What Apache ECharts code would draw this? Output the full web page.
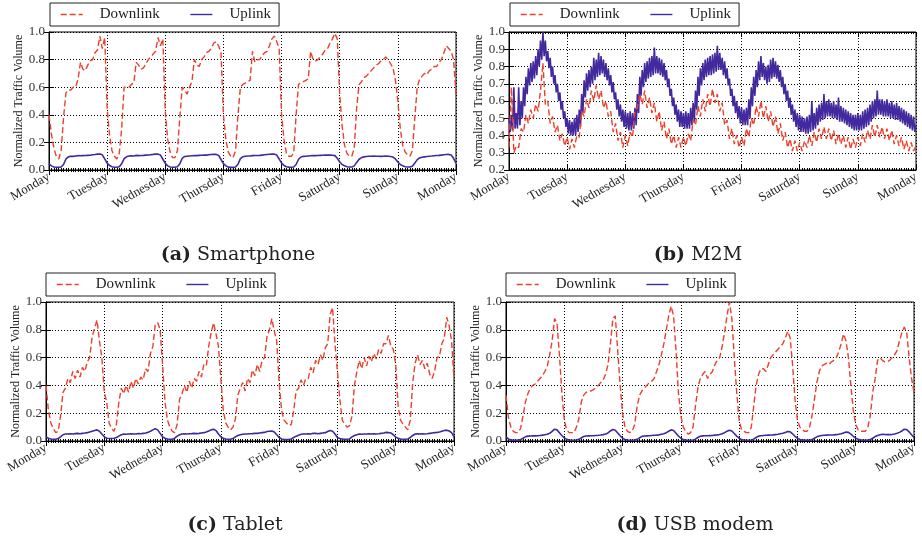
<!DOCTYPE html>
<html><head><meta charset="utf-8">
<script src="https://cdn.jsdelivr.net/npm/echarts@6/dist/echarts.min.js"></script>
<style>html,body{margin:0;padding:0;background:#fff}#c{width:922px;height:540px}</style>
</head><body><div id="c"></div>
<script>
// x axis tick labels (one per day boundary, hours 0..168 step 24)
const dayLabels = ['Monday','Tuesday','Wednesday','Thursday','Friday','Saturday','Sunday','Monday'];
const seriesNames = ['Downlink','Uplink'];
const captions = [['(a)','Smartphone'],['(b)','M2M'],['(c)','Tablet'],['(d)','USB modem']];

// hourly samples, hour 0 (Monday 00:00) to hour 168 (next Monday 00:00)
const smartphoneDown = [
0.40,0.26,0.16,0.10,0.08,0.14,0.38,0.56,0.58,0.58,0.60,0.60,0.66,0.78,0.73,0.72,0.76,0.79,0.80,0.85,0.87,0.97,0.88,0.96,
0.45,0.25,0.14,0.10,0.08,0.12,0.30,0.60,0.60,0.60,0.62,0.63,0.78,0.76,0.73,0.74,0.77,0.80,0.82,0.84,0.86,0.96,0.90,0.95,
0.42,0.22,0.13,0.09,0.09,0.14,0.38,0.60,0.58,0.55,0.60,0.64,0.80,0.76,0.75,0.80,0.82,0.85,0.86,0.88,0.92,0.93,0.90,0.85,
0.40,0.22,0.13,0.10,0.09,0.14,0.40,0.60,0.62,0.63,0.64,0.65,0.86,0.78,0.80,0.80,0.83,0.85,0.86,0.90,0.95,0.97,0.93,0.88,
0.40,0.22,0.12,0.10,0.10,0.12,0.40,0.62,0.63,0.64,0.65,0.66,0.86,0.80,0.79,0.80,0.82,0.84,0.87,0.88,0.92,0.95,0.99,0.95,
0.55,0.32,0.18,0.12,0.10,0.10,0.16,0.45,0.62,0.64,0.67,0.68,0.70,0.72,0.74,0.76,0.77,0.79,0.80,0.82,0.80,0.77,0.74,0.65,
0.50,0.30,0.18,0.13,0.11,0.10,0.14,0.38,0.60,0.66,0.68,0.70,0.69,0.72,0.73,0.75,0.75,0.78,0.80,0.85,0.90,0.88,0.86,0.80,
0.55];
const smartphoneUp = [
0.045,0.030,0.022,0.020,0.019,0.022,0.040,0.080,0.095,0.100,0.099,0.102,0.104,0.103,0.104,0.105,0.106,0.107,0.110,0.112,0.115,0.116,0.110,0.080,
0.050,0.032,0.023,0.020,0.020,0.023,0.045,0.082,0.096,0.101,0.103,0.102,0.106,0.104,0.105,0.106,0.108,0.109,0.111,0.113,0.116,0.115,0.108,0.078,
0.048,0.030,0.022,0.020,0.020,0.024,0.045,0.085,0.098,0.100,0.102,0.103,0.104,0.104,0.106,0.107,0.108,0.108,0.110,0.112,0.114,0.113,0.106,0.076,
0.046,0.030,0.021,0.019,0.019,0.022,0.042,0.082,0.096,0.100,0.101,0.102,0.104,0.105,0.105,0.106,0.108,0.110,0.112,0.114,0.116,0.115,0.108,0.080,
0.050,0.033,0.024,0.021,0.020,0.022,0.040,0.078,0.094,0.099,0.100,0.102,0.103,0.104,0.104,0.105,0.106,0.107,0.108,0.108,0.108,0.107,0.104,0.085,
0.058,0.040,0.030,0.024,0.022,0.022,0.030,0.055,0.078,0.090,0.095,0.098,0.100,0.100,0.101,0.100,0.100,0.099,0.100,0.101,0.100,0.098,0.094,0.080,
0.058,0.040,0.030,0.024,0.022,0.022,0.028,0.050,0.075,0.088,0.092,0.095,0.098,0.100,0.101,0.103,0.105,0.106,0.108,0.110,0.112,0.113,0.108,0.085,
0.050];
const m2mDown = [
0.33,0.68,0.30,0.34,0.33,0.44,0.42,0.52,0.47,0.55,0.50,0.58,0.54,0.66,0.82,0.58,0.60,0.47,0.51,0.42,0.46,0.37,0.41,0.34,
0.39,0.32,0.38,0.33,0.40,0.39,0.54,0.51,0.61,0.56,0.66,0.60,0.69,0.61,0.66,0.56,0.60,0.51,0.54,0.42,0.47,0.37,0.42,0.33,
0.40,0.34,0.42,0.39,0.55,0.56,0.64,0.58,0.66,0.56,0.62,0.53,0.59,0.48,0.54,0.43,0.48,0.38,0.44,0.35,0.40,0.33,0.39,0.33,
0.39,0.34,0.41,0.37,0.49,0.46,0.57,0.51,0.61,0.54,0.64,0.57,0.67,0.59,0.64,0.54,0.59,0.46,0.49,0.38,0.44,0.35,0.40,0.33,
0.39,0.34,0.44,0.39,0.50,0.46,0.57,0.51,0.60,0.50,0.57,0.48,0.54,0.45,0.51,0.41,0.47,0.37,0.42,0.33,0.38,0.31,0.37,0.31,
0.36,0.31,0.37,0.33,0.40,0.34,0.42,0.36,0.44,0.38,0.45,0.38,0.44,0.37,0.43,0.35,0.41,0.35,0.40,0.33,0.39,0.32,0.38,0.33,
0.39,0.34,0.41,0.36,0.43,0.38,0.46,0.39,0.46,0.39,0.45,0.38,0.44,0.37,0.43,0.35,0.40,0.34,0.39,0.32,0.37,0.31,0.36,0.31,
0.34];
// M2M uplink is sampled every half hour (337 samples, 0..168 h)
const m2mUpHalfHourly = [
0.50,0.42, 0.52,0.43, 0.68,0.44, 0.53,0.44, 0.68,0.46, 0.60,0.50, 0.68,0.57, 0.74,0.64, 0.79,0.69, 0.82,0.71, 0.83,0.73, 0.86,0.75,
0.90,0.80, 0.95,0.84, 1.00,0.86, 0.95,0.83, 0.89,0.79, 0.85,0.74, 0.80,0.70, 0.75,0.65, 0.70,0.60, 0.65,0.55, 0.60,0.50, 0.54,0.45,
0.50,0.41, 0.49,0.40, 0.48,0.40, 0.50,0.40, 0.52,0.42, 0.55,0.45, 0.64,0.53, 0.72,0.62, 0.76,0.66, 0.78,0.68, 0.80,0.70, 0.85,0.72,
0.84,0.74, 0.88,0.75, 0.86,0.76, 0.84,0.74, 0.82,0.72, 0.79,0.69, 0.75,0.65, 0.71,0.61, 0.65,0.55, 0.61,0.51, 0.58,0.48, 0.55,0.45,
0.54,0.44, 0.53,0.43, 0.54,0.43, 0.53,0.44, 0.56,0.46, 0.64,0.53, 0.74,0.63, 0.78,0.68, 0.82,0.71, 0.83,0.73, 0.85,0.74, 0.86,0.75,
0.91,0.76, 0.86,0.76, 0.85,0.75, 0.84,0.74, 0.82,0.72, 0.78,0.68, 0.73,0.63, 0.67,0.57, 0.62,0.52, 0.58,0.48, 0.55,0.45, 0.54,0.45,
0.53,0.44, 0.54,0.44, 0.53,0.44, 0.56,0.46, 0.59,0.48, 0.66,0.55, 0.74,0.63, 0.79,0.69, 0.82,0.72, 0.84,0.74, 0.85,0.75, 0.86,0.75,
0.87,0.76, 0.88,0.77, 0.92,0.78, 0.88,0.78, 0.85,0.75, 0.83,0.73, 0.79,0.69, 0.73,0.63, 0.67,0.57, 0.63,0.53, 0.60,0.50, 0.57,0.47,
0.56,0.46, 0.55,0.46, 0.56,0.46, 0.61,0.50, 0.68,0.57, 0.74,0.63, 0.78,0.68, 0.83,0.72, 0.86,0.74, 0.82,0.72, 0.80,0.70, 0.81,0.71,
0.84,0.73, 0.85,0.74, 0.83,0.73, 0.81,0.71, 0.78,0.68, 0.74,0.64, 0.70,0.60, 0.66,0.56, 0.62,0.52, 0.58,0.48, 0.55,0.45, 0.53,0.43,
0.52,0.42, 0.51,0.42, 0.50,0.41, 0.51,0.41, 0.52,0.42, 0.60,0.43, 0.53,0.44, 0.56,0.46, 0.58,0.48, 0.59,0.49, 0.64,0.50, 0.60,0.51,
0.61,0.51, 0.59,0.50, 0.60,0.50, 0.58,0.49, 0.62,0.48, 0.57,0.48, 0.56,0.47, 0.55,0.46, 0.54,0.45, 0.53,0.44, 0.52,0.43, 0.52,0.43,
0.53,0.43, 0.52,0.43, 0.54,0.44, 0.55,0.45, 0.56,0.46, 0.58,0.48, 0.60,0.50, 0.61,0.51, 0.66,0.52, 0.61,0.52, 0.61,0.51, 0.60,0.51,
0.61,0.51, 0.59,0.50, 0.60,0.50, 0.58,0.49, 0.59,0.49, 0.57,0.48, 0.56,0.47, 0.55,0.46, 0.54,0.45, 0.53,0.44, 0.52,0.43, 0.51,0.42,
0.46];
const tabletDown = [
0.40,0.22,0.13,0.09,0.06,0.07,0.18,0.35,0.38,0.45,0.42,0.50,0.45,0.51,0.46,0.53,0.50,0.57,0.60,0.75,0.81,0.87,0.72,0.60,
0.35,0.28,0.13,0.09,0.07,0.12,0.28,0.38,0.34,0.40,0.35,0.43,0.38,0.45,0.41,0.46,0.44,0.52,0.50,0.63,0.68,0.84,0.85,0.80,
0.55,0.28,0.15,0.10,0.07,0.06,0.12,0.30,0.34,0.40,0.35,0.43,0.38,0.45,0.43,0.50,0.46,0.55,0.54,0.68,0.78,0.85,0.77,0.68,
0.45,0.22,0.13,0.10,0.08,0.10,0.16,0.33,0.38,0.42,0.36,0.45,0.42,0.51,0.47,0.55,0.50,0.58,0.60,0.75,0.80,0.88,0.79,0.72,
0.42,0.22,0.15,0.13,0.11,0.12,0.22,0.36,0.38,0.44,0.40,0.45,0.45,0.53,0.49,0.58,0.55,0.62,0.58,0.67,0.70,0.91,0.96,0.70,
0.50,0.30,0.15,0.12,0.10,0.11,0.18,0.40,0.50,0.58,0.52,0.60,0.54,0.61,0.57,0.63,0.59,0.66,0.63,0.70,0.70,0.76,0.68,0.66,
0.55,0.25,0.15,0.12,0.10,0.08,0.15,0.42,0.56,0.62,0.55,0.58,0.52,0.56,0.48,0.45,0.50,0.60,0.61,0.70,0.74,0.89,0.83,0.72,
0.45];
const tabletUp = [
0.030,0.020,0.015,0.012,0.012,0.018,0.030,0.045,0.050,0.050,0.052,0.050,0.053,0.055,0.052,0.055,0.057,0.060,0.065,0.070,0.075,0.080,0.070,0.050,
0.030,0.020,0.018,0.018,0.020,0.025,0.035,0.045,0.050,0.048,0.050,0.052,0.050,0.050,0.053,0.052,0.055,0.058,0.062,0.070,0.080,0.088,0.080,0.055,
0.030,0.020,0.015,0.012,0.013,0.020,0.035,0.045,0.050,0.052,0.050,0.052,0.053,0.055,0.053,0.055,0.058,0.060,0.065,0.072,0.080,0.085,0.075,0.050,
0.030,0.020,0.015,0.012,0.012,0.018,0.030,0.040,0.045,0.048,0.050,0.050,0.052,0.053,0.055,0.055,0.058,0.060,0.062,0.068,0.070,0.072,0.065,0.045,
0.025,0.015,0.012,0.010,0.012,0.015,0.025,0.035,0.042,0.048,0.050,0.050,0.052,0.050,0.055,0.055,0.052,0.055,0.058,0.060,0.068,0.075,0.070,0.050,
0.025,0.018,0.015,0.012,0.012,0.015,0.030,0.040,0.045,0.050,0.048,0.050,0.050,0.052,0.050,0.052,0.050,0.052,0.055,0.058,0.062,0.060,0.058,0.045,
0.028,0.020,0.015,0.012,0.012,0.015,0.025,0.040,0.050,0.052,0.050,0.052,0.050,0.052,0.055,0.058,0.060,0.062,0.065,0.070,0.075,0.078,0.072,0.060,
0.030];
const usbDown = [
0.33,0.17,0.10,0.07,0.06,0.06,0.09,0.18,0.28,0.34,0.38,0.40,0.41,0.43,0.45,0.47,0.50,0.54,0.62,0.72,0.88,0.85,0.62,0.35,
0.15,0.08,0.06,0.06,0.06,0.10,0.16,0.28,0.33,0.35,0.36,0.36,0.37,0.38,0.40,0.42,0.44,0.48,0.55,0.70,0.88,0.90,0.65,0.40,
0.20,0.10,0.07,0.06,0.07,0.12,0.25,0.33,0.36,0.38,0.40,0.42,0.43,0.45,0.50,0.55,0.62,0.70,0.80,0.90,0.97,0.90,0.65,0.35,
0.18,0.10,0.07,0.05,0.06,0.10,0.25,0.38,0.45,0.48,0.50,0.45,0.48,0.50,0.55,0.58,0.60,0.68,0.78,0.90,1.00,0.88,0.60,0.35,
0.15,0.08,0.07,0.06,0.06,0.10,0.25,0.40,0.48,0.52,0.52,0.50,0.55,0.60,0.62,0.64,0.66,0.68,0.70,0.74,0.79,0.74,0.55,0.30,
0.15,0.10,0.08,0.07,0.07,0.10,0.18,0.30,0.42,0.50,0.54,0.55,0.56,0.55,0.57,0.58,0.60,0.64,0.70,0.77,0.72,0.60,0.40,0.22,
0.12,0.08,0.07,0.07,0.07,0.10,0.18,0.35,0.45,0.58,0.60,0.58,0.57,0.57,0.58,0.60,0.62,0.65,0.72,0.78,0.82,0.78,0.60,0.45,
0.35];
const usbUp = [
0.030,0.015,0.008,0.005,0.005,0.006,0.010,0.020,0.030,0.035,0.036,0.037,0.037,0.038,0.040,0.042,0.045,0.048,0.055,0.070,0.085,0.080,0.060,0.040,
0.022,0.012,0.007,0.005,0.005,0.007,0.012,0.022,0.032,0.036,0.037,0.038,0.038,0.040,0.041,0.043,0.046,0.050,0.058,0.072,0.083,0.078,0.058,0.038,
0.020,0.011,0.007,0.005,0.005,0.007,0.012,0.023,0.033,0.036,0.037,0.038,0.040,0.041,0.042,0.044,0.048,0.052,0.060,0.070,0.080,0.076,0.056,0.036,
0.020,0.010,0.006,0.005,0.005,0.007,0.013,0.025,0.034,0.037,0.038,0.038,0.039,0.040,0.042,0.044,0.047,0.052,0.060,0.070,0.078,0.072,0.054,0.035,
0.020,0.010,0.007,0.005,0.005,0.007,0.013,0.025,0.035,0.038,0.040,0.041,0.042,0.043,0.044,0.046,0.048,0.052,0.056,0.062,0.068,0.066,0.052,0.034,
0.020,0.011,0.007,0.006,0.005,0.006,0.010,0.020,0.030,0.036,0.039,0.041,0.042,0.043,0.043,0.044,0.046,0.048,0.052,0.058,0.064,0.062,0.050,0.034,
0.020,0.012,0.008,0.006,0.005,0.006,0.010,0.020,0.032,0.040,0.045,0.048,0.047,0.046,0.046,0.047,0.050,0.055,0.062,0.072,0.085,0.082,0.066,0.045,
0.025];

const FONT = 'Liberation Serif';
const CAPFONT = 'DejaVu Serif';
const RED = '#ec3f2b';
const BLUE = '#42299e';

const panels = [
  {grid:{left:49,top:32,width:407,height:138}, ymin:0, yint:0.2, down:smartphoneDown, up:smartphoneUp, upStep:1, upW:1.6, leg:{left:50,top:3}, cap:{x:233,y:241}},
  {grid:{left:509,top:32,width:407,height:138}, ymin:0.2, yint:0.1, down:m2mDown, up:m2mUpHalfHourly, upStep:0.5, upW:1.6, leg:{left:510,top:3}, cap:{x:693,y:241}},
  {grid:{left:46,top:302,width:408,height:139}, ymin:0, yint:0.2, down:tabletDown, up:tabletUp, upStep:1, upW:1.6, leg:{left:46,top:273}, cap:{x:230,y:511}},
  {grid:{left:506,top:302,width:408,height:139}, ymin:0, yint:0.2, down:usbDown, up:usbUp, upStep:1, upW:1.6, leg:{left:506,top:273}, cap:{x:690,y:511}}
];

const grid=[], xAxis=[], yAxis=[], series=[], legend=[], title=[];
const toPairs = (arr, step) => arr.map((v,i)=>[i*step,v]);

panels.forEach((p,i)=>{
  grid.push(Object.assign({show:true, borderColor:'#000', borderWidth:1, backgroundColor:'#fff'}, p.grid));
  const tickCommon = {inside:true, length:5, lineStyle:{color:'#000'}};
  xAxis.push({gridIndex:i, type:'value', min:0, max:168, interval:24, position:'bottom',
    axisLine:{lineStyle:{color:'#000', width:1}},
    axisTick:tickCommon,
    minorTick:{show:true, splitNumber:24, length:2, lineStyle:{color:'#000'}},
    splitLine:{show:true, lineStyle:{color:'#000', type:[1,2], width:1}},
    axisLabel:{rotate:30, margin:6, fontFamily:FONT, fontSize:13, color:'#222',
      formatter:v=>dayLabels[Math.round(v/24)]}});
  xAxis.push({gridIndex:i, type:'value', min:0, max:168, interval:24, position:'top',
    axisLine:{lineStyle:{color:'#000'}}, axisTick:tickCommon,
    minorTick:{show:true, splitNumber:24, length:2, lineStyle:{color:'#000'}},
    splitLine:{show:false}, axisLabel:{show:false}});
  yAxis.push({gridIndex:i, type:'value', min:p.ymin, max:1, interval:p.yint, position:'left',
    name:'Normalized Traffic Volume', nameLocation:'middle', nameGap:17,
    nameTextStyle:{fontFamily:FONT, fontSize:12, color:'#222'},
    axisLine:{show:true, lineStyle:{color:'#000'}}, axisTick:tickCommon,
    splitLine:{show:true, lineStyle:{color:'#000', type:[1,2], width:1}},
    axisLabel:{margin:4, fontFamily:FONT, fontSize:13, color:'#333', formatter:v=>v.toFixed(1)}});
  yAxis.push({gridIndex:i, type:'value', min:p.ymin, max:1, interval:p.yint, position:'right',
    axisLine:{show:true, lineStyle:{color:'#000'}}, axisTick:tickCommon,
    splitLine:{show:false}, axisLabel:{show:false}});
  series.push({name:seriesNames[1], type:'line', xAxisIndex:2*i, yAxisIndex:2*i, data:toPairs(p.up, p.upStep),
    showSymbol:false, symbol:'none', color:BLUE, lineStyle:{color:BLUE, width:p.upW}, z:3});
  series.push({name:seriesNames[0], type:'line', xAxisIndex:2*i, yAxisIndex:2*i, data:toPairs(p.down, 1),
    showSymbol:false, symbol:'none', color:RED, lineStyle:{color:RED, width:1.4, type:[6,3]}, z:4});
  legend.push({data:seriesNames, left:p.leg.left, top:p.leg.top, orient:'horizontal',
    itemWidth:22, itemHeight:10, itemGap:30, padding:[4,8,4,10],
    itemStyle:{opacity:0},
    lineStyle:{width:1.4},
    borderColor:'#222', borderWidth:1, backgroundColor:'#fff', selectedMode:false,
    textStyle:{fontFamily:FONT, fontSize:15, color:'#222', padding:[0,0,0,12]}});
  title.push({text:'{b|'+captions[i][0]+'} '+captions[i][1], left:p.cap.x, top:p.cap.y, textAlign:'center',
    textStyle:{fontFamily:CAPFONT, fontSize:19, fontWeight:'normal', color:'#222',
      rich:{b:{fontFamily:CAPFONT, fontSize:19, fontWeight:'bold', color:'#222'}}}});
});

const chart = echarts.init(document.getElementById('c'), null, {renderer:'canvas'});
chart.setOption({animation:false, backgroundColor:'#fff', grid, xAxis, yAxis, series, legend, title});
</script></body></html>
